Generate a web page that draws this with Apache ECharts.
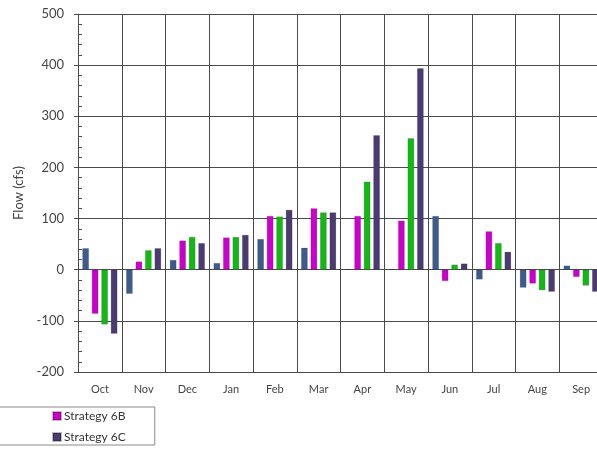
<!DOCTYPE html>
<html>
<head>
<meta charset="utf-8">
<script src="https://cdn.jsdelivr.net/npm/echarts@6/dist/echarts.min.js"></script>
<style>
  html, body { margin: 0; padding: 0; background: #fff; }
  #chart { width: 597px; height: 449px; }
</style>
</head>
<body>
<div id="chart"></div>
<script>
// months (water year)
var months = ['Oct', 'Nov', 'Dec', 'Jan', 'Feb', 'Mar', 'Apr', 'May', 'Jun', 'Jul', 'Aug', 'Sep'];
var yTicks = { min: -200, max: 500, step: 100 };

// flow change (cfs) per series
var strat6A  = [42, -47, 19, 13, 60, 43, 1, 1, 105, -19, -35, 8];
var strat6B  = [-86, 16, 57, 63, 105, 120, 105, 96, -22, 75, -27, -14];
var strat6B2 = [-107, 38, 64, 64, 104, 112, 172, 257, 10, 52, -40, -31];
var strat6C  = [-125, 42, 52, 68, 117, 112, 263, 394, 12, 35, -43, -43];

var font = 'Lato, "Open Sans", sans-serif';
var gridColor = '#4a4a4a';

var myChart = echarts.init(document.getElementById('chart'));

function bar(name, data, color) {
  return {
    name: name,
    type: 'bar',
    data: data,
    barWidth: 6.5,
    barGap: '46%',
    itemStyle: { color: color, borderColor: 'rgba(0,0,0,0.25)', borderWidth: 0.5 }
  };
}

myChart.setOption({
  animation: false,
  textStyle: { fontFamily: font },
  grid: {
    left: 78,
    top: 14,
    right: -6,
    bottom: 77,
    outerBoundsMode: 'none'
  },
  legend: {
    data: ['Strategy 6B', 'Strategy 6C'],
    orient: 'vertical',
    left: -10,
    top: 407,
    padding: [3, 29, 2, 62],
    itemWidth: 8,
    itemHeight: 8,
    itemGap: 9,
    borderColor: '#8a8a8a',
    borderWidth: 1,
    icon: 'rect',
    textStyle: { fontSize: 12, lineHeight: 12, color: '#333', fontFamily: font, padding: [0, 0, 0, -2] }
  },
  xAxis: {
    type: 'category',
    data: months,
    axisLine: { onZero: false, lineStyle: { color: gridColor } },
    axisTick: { show: false },
    splitLine: { show: true, interval: 0, lineStyle: { color: gridColor, width: 1 } },
    axisLabel: { color: '#444', fontSize: 11, margin: 12, interval: 0 }
  },
  yAxis: [
    {
      type: 'value',
      min: yTicks.min,
      max: yTicks.max,
      interval: yTicks.step,
      name: 'Flow (cfs)',
      nameLocation: 'middle',
      nameGap: 52,
      nameTextStyle: { fontSize: 13, color: '#444', fontFamily: font },
      axisLine: { show: true, lineStyle: { color: gridColor } },
      axisTick: { show: true, length: 4, lineStyle: { color: gridColor } },
      axisLabel: { color: '#444', fontSize: 13, margin: 14 },
      splitLine: { show: true, lineStyle: { color: gridColor, width: 1 } }
    },
    {
      // only for the small inside ticks
      type: 'value',
      position: 'left',
      min: yTicks.min,
      max: yTicks.max,
      interval: yTicks.step,
      axisLine: { show: false },
      axisTick: { show: false, inside: true },
      minorTick: { show: true, splitNumber: 5, length: 4, lineStyle: { color: gridColor } },
      axisLabel: { show: false },
      splitLine: { show: false }
    }
  ],
  series: [
    bar('Strategy 6A', strat6A, '#3d5c8c'),
    bar('Strategy 6B', strat6B, '#cc00cc'),
    bar('Strategy 6B2', strat6B2, '#14b814'),
    bar('Strategy 6C', strat6C, '#4b3b72')
  ]
});
</script>
</body>
</html>
